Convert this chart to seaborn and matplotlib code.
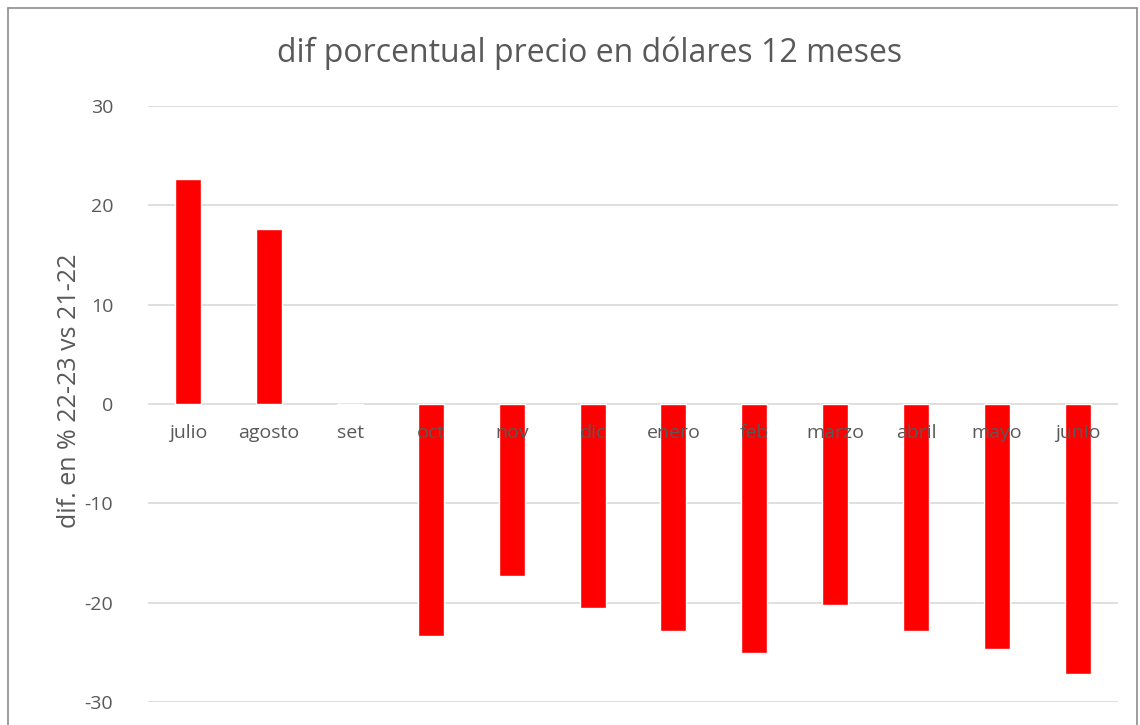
import numpy as np
import pandas as pd
import matplotlib
matplotlib.use("Agg")
import matplotlib.pyplot as plt
from matplotlib.lines import Line2D
import seaborn as sns

meses = ["julio", "agosto", "set", "oct", "nov", "dic", "enero", "feb", "marzo", "abril", "mayo", "junio"]
dif_pct = [22.7, 17.6, -0.1, -23.4, -17.3, -20.5, -22.9, -25.1, -20.2, -22.85, -24.7, -27.2]

df = pd.DataFrame({"mes": meses, "dif": dif_pct})

sns.set_style("white")
plt.rcParams['font.family'] = ['Open Sans', 'DejaVu Sans']
plt.rcParams['axes.unicode_minus'] = False

fig = plt.figure(figsize=(11.4, 7.25), dpi=100)
ax = fig.add_axes([148 / 1140, 1 - 702 / 725, (1118 - 148) / 1140, (702 - 106) / 725])

sns.barplot(data=df, x="mes", y="dif", color="#ff0000", saturation=1, width=0.32, ax=ax, zorder=2)

ax.set_ylim(-30, 30)
ax.set_xlim(-0.5, len(meses) - 0.5)
ax.set_yticks([-30, -20, -10, 0, 10, 20, 30])
ax.yaxis.grid(True, color="#d9d9d9", linewidth=1.2, zorder=0)
ax.set_axisbelow(True)
for s in ax.spines.values():
    s.set_visible(False)

ax.tick_params(axis="y", length=0, labelsize=14, labelcolor="#595959", pad=25)
ax.tick_params(axis="x", length=0, labelbottom=False)

# category labels sit just under the zero line, drawn over the bars (Excel style)
for i, m in enumerate(meses):
    ax.text(i, 0, m, ha="center", va="top", fontsize=14, color="#595959", zorder=5,
            transform=ax.transData + matplotlib.transforms.ScaledTranslation(0, -20 / 100, fig.dpi_scale_trans))

ax.set_xlabel("")
ax.set_ylabel("dif. en % 22-23 vs 21-22", fontsize=18, color="#595959")
ax.yaxis.set_label_coords(-0.068, 0.522)
fig.text(590 / 1140, 1 - 53 / 725, "dif porcentual precio en dólares 12 meses",
         ha="center", va="center", fontsize=23, color="#595959")

# chart frame (bottom edge is cropped in the reference)
frame_color = "#8c8c8c"
fig.add_artist(Line2D([8 / 1140, 8 / 1140], [0, 1 - 8 / 725], color=frame_color, lw=1.2, transform=fig.transFigure))
fig.add_artist(Line2D([8 / 1140, 1137 / 1140], [1 - 8 / 725, 1 - 8 / 725], color=frame_color, lw=1.2, transform=fig.transFigure))
fig.add_artist(Line2D([1137 / 1140, 1137 / 1140], [0, 1 - 8 / 725], color=frame_color, lw=1.2, transform=fig.transFigure))

fig.savefig("out.png", dpi=100)
